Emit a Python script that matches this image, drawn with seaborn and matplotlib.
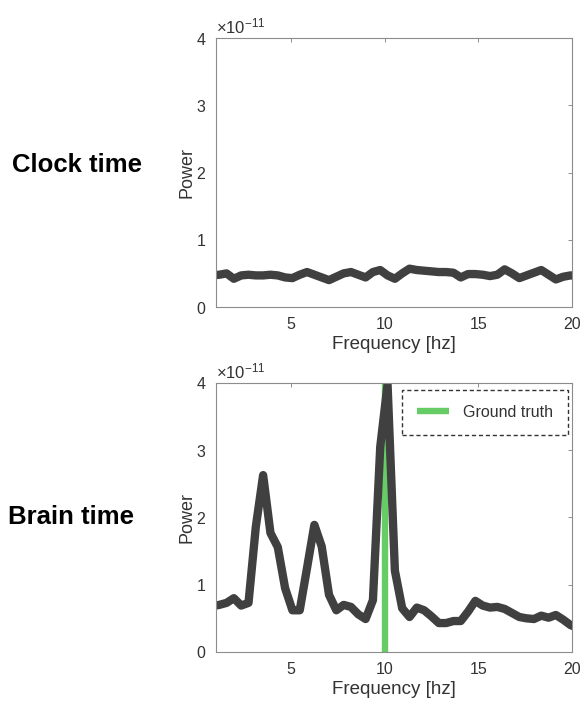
import numpy as np
import pandas as pd
import matplotlib
matplotlib.use("Agg")
import matplotlib.pyplot as plt
import seaborn as sns

# Frequency bins (fs = 100 Hz, 256-point FFT): bins 2..52
bin_index = np.arange(2, 53)
frequency_hz = bin_index * 100.0 / 256.0

# Power spectra, in units of 1e-11
clock_power = [0.47, 0.48, 0.50, 0.42, 0.47, 0.48, 0.47, 0.47, 0.48, 0.47,
               0.44, 0.43, 0.48, 0.52, 0.48, 0.44, 0.40, 0.45, 0.50, 0.52,
               0.48, 0.44, 0.52, 0.55, 0.47, 0.42, 0.50, 0.57, 0.55, 0.54,
               0.53, 0.52, 0.52, 0.51, 0.44, 0.49, 0.49, 0.48, 0.46, 0.48,
               0.56, 0.50, 0.43, 0.47, 0.51, 0.55, 0.48, 0.41, 0.45, 0.47,
               0.46]
brain_power = [0.68, 0.70, 0.73, 0.80, 0.69, 0.73, 1.86, 2.63, 1.77, 1.56,
               0.95, 0.62, 0.62, 1.25, 1.89, 1.57, 0.85, 0.62, 0.70, 0.67,
               0.56, 0.49, 0.77, 3.05, 3.98, 1.21, 0.65, 0.52, 0.66, 0.62,
               0.53, 0.43, 0.43, 0.46, 0.46, 0.60, 0.76, 0.69, 0.66, 0.67,
               0.64, 0.58, 0.52, 0.50, 0.49, 0.54, 0.51, 0.55, 0.48, 0.40,
               0.36]
power_scale = 1e-11

ground_truth_hz = 10.0
panel_titles = ["Clock time", "Brain time"]
x_ticks = [5, 10, 15, 20]
y_ticks = [0, 1, 2, 3, 4]

sns.set_theme(style="white")
plt.rcParams["font.family"] = ["Liberation Sans", "DejaVu Sans"]
plt.rcParams["mathtext.fontset"] = "custom"
plt.rcParams["mathtext.rm"] = "Liberation Sans"

line_color = "#404040"
spine_color = "#8c8c8c"
text_color = "#333333"

fig = plt.figure(figsize=(5.86, 7.04), dpi=100)
ax_top = fig.add_axes([0.3686, 0.5639, 0.6075, 0.3821])
ax_bot = fig.add_axes([0.3686, 0.0739, 0.6075, 0.3821])

frames = [
    pd.DataFrame({"freq": frequency_hz, "power": np.array(clock_power) * power_scale}),
    pd.DataFrame({"freq": frequency_hz, "power": np.array(brain_power) * power_scale}),
]

for ax, df, title in zip([ax_top, ax_bot], frames, panel_titles):
    if ax is ax_bot:
        ax.axvline(ground_truth_hz, ymin=0, ymax=1, color="#66cc66",
                   lw=4.6, zorder=1, label="Ground truth", solid_capstyle="butt")
    sns.lineplot(data=df, x="freq", y="power", ax=ax, color=line_color,
                 lw=6.0, zorder=2, legend=False, solid_joinstyle="round")
    ax.set_xlim(1, 20)
    ax.set_ylim(0, 4 * power_scale)
    ax.set_xticks(x_ticks)
    ax.set_yticks([v * power_scale for v in y_ticks])
    ax.ticklabel_format(style="sci", axis="y", scilimits=(0, 0), useMathText=True)
    ax.yaxis.get_offset_text().set_fontsize(12)
    ax.yaxis.get_offset_text().set_color(text_color)
    ax.set_xlabel("Frequency [hz]", fontsize=13.5, color=text_color, labelpad=3)
    ax.set_ylabel("Power", fontsize=13, color=text_color, labelpad=0)
    ax.tick_params(axis="both", which="both", direction="in", length=3,
                   width=0.7, color=spine_color, labelsize=11.5,
                   labelcolor=text_color, top=True, right=True, pad=7)
    for spine in ax.spines.values():
        spine.set_color(spine_color)
        spine.set_linewidth(0.8)
    ax.grid(False)

leg = ax_bot.legend(loc="upper right", fontsize=11.5, frameon=True, fancybox=False,
                    handlelength=2.0, borderpad=0.95, bbox_to_anchor=(0.99, 0.975),
                    borderaxespad=0.0, handletextpad=0.9)
frame = leg.get_frame()
frame.set_edgecolor("black")
frame.set_linestyle((0, (3, 2)))
frame.set_linewidth(1.0)
for t in leg.get_texts():
    t.set_color(text_color)

fig.text(0.132, 0.766, panel_titles[0], fontsize=18.5, fontweight="bold",
         ha="center", va="center", color="black")
fig.text(0.122, 0.266, panel_titles[1], fontsize=18.5, fontweight="bold",
         ha="center", va="center", color="black")

fig.savefig("out.png", dpi=100)
